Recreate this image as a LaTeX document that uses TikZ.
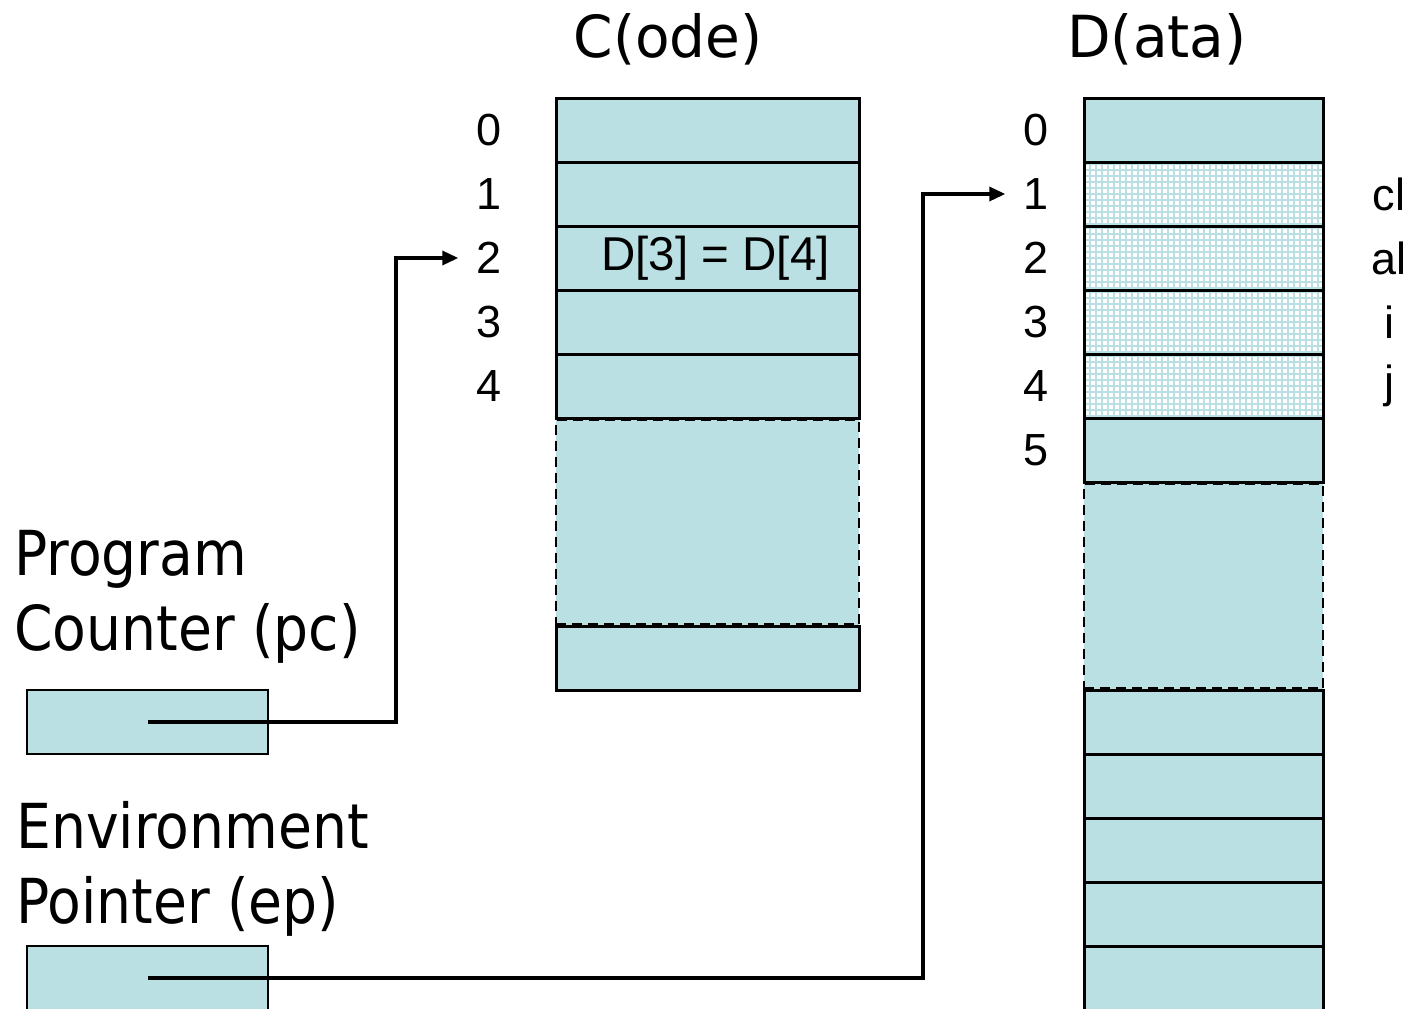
\documentclass[tikz,border=0pt]{standalone}
\usepackage{fontspec}
\setmainfont{Liberation Sans}
\newfontfamily\tahoma[FakeStretch=0.89]{DejaVu Sans}
\newfontfamily\headfont[FakeStretch=0.975]{DejaVu Sans}
\usetikzlibrary{positioning,arrows.meta}
\definecolor{memfill}{RGB}{187,224,227}
\definecolor{memgrid}{RGB}{187,224,227}

\tikzset{
  cell/.style={draw,line width=3pt,fill=memfill,minimum width=303pt,minimum height=64pt,inner sep=0pt,outer sep=0pt},
  dcell/.style={cell,minimum width=239pt},
  gridcell/.style={dcell,fill=white,path picture={\draw[memgrid,line width=2pt] (path picture bounding box.south west) grid[step=6pt] (path picture bounding box.north east);}},
  gapcell/.style={draw,dash pattern=on 10pt off 6pt,line width=2.6pt,fill=memfill,minimum height=205pt,inner sep=0pt,outer sep=0pt},
  idx/.style={font=\fontsize{45}{54}\selectfont,inner sep=2pt},
  reg/.style={draw,line width=2.2pt,fill=memfill,minimum width=241pt,minimum height=64pt,inner sep=0pt},
  regname/.style={font=\tahoma\fontsize{62}{75}\selectfont,align=left,anchor=north west,inner sep=0pt},
  seghead/.style={font=\headfont\fontsize{58}{70}\selectfont},
  ptr/.style={->,line width=3.4pt,shorten >=16pt}
}

\begin{document}
\begin{tikzpicture}[x=1pt,y=-1pt,on grid,node distance=64pt,>={Triangle[length=16pt,width=14pt]}]
  \clip (0,0) rectangle (1414,1009);

  % code segment
  \node[seghead] (codehead) at (668,39) {C(ode)};
  \node[cell] (c0) at (707.5,130) {};
  \node[cell] (c1) [below=of c0] {};
  \node[cell,font=\fontsize{47.5}{56}\selectfont] (c2) [below=of c1] {\hspace*{16pt}D[3] = D[4]};
  \node[cell] (c3) [below=of c2] {};
  \node[cell] (c4) [below=of c3] {};
  \node[gapcell,minimum width=303pt] (cgap) [below=136pt of c4] {};
  \node[cell] (c5) [below=136pt of cgap] {};

  \node[idx] (cnum0) [left=218.5pt of c0] {0};
  \node[idx] (cnum1) [left=218.5pt of c1] {1};
  \node[idx] (cnum2) [left=218.5pt of c2] {2};
  \node[idx] (cnum3) [left=218.5pt of c3] {3};
  \node[idx] (cnum4) [left=218.5pt of c4] {4};

  % data segment
  \node[seghead] (datahead) at (1157,39) {D(ata)};
  \node[dcell] (d0) at (1203.5,130) {};
  \node[gridcell] (d1) [below=of d0] {};
  \node[gridcell] (d2) [below=of d1] {};
  \node[gridcell] (d3) [below=of d2] {};
  \node[gridcell] (d4) [below=of d3] {};
  \node[dcell] (d5) [below=of d4] {};
  \node[gapcell,minimum width=239pt] (dgap) [below=136pt of d5] {};
  \node[dcell] (d6) [below=136pt of dgap] {};
  \node[dcell] (d7) [below=of d6] {};
  \node[dcell] (d8) [below=of d7] {};
  \node[dcell] (d9) [below=of d8] {};
  \node[dcell] (d10) [below=of d9] {};

  \node[idx] (dnum0) [left=167.5pt of d0] {0};
  \node[idx] (dnum1) [left=167.5pt of d1] {1};
  \node[idx] (dnum2) [left=167.5pt of d2] {2};
  \node[idx] (dnum3) [left=167.5pt of d3] {3};
  \node[idx] (dnum4) [left=167.5pt of d4] {4};
  \node[idx] (dnum5) [left=167.5pt of d5] {5};

  \node[idx] (var1) [right=185.5pt of d1] {cl};
  \node[idx] (var2) [right=185.5pt of d2] {al};
  \node[idx] (var3) [right=185.5pt of d3] {i};
  \node[idx] (var4) [right=185.5pt of d4] {j};

  % registers
  \node[regname] (pcname) at (14,530) {Program\\Counter (pc)};
  \node[reg] (pcreg) at (147.5,722) {};
  \node[regname] (epname) at (16,801) {Environment\\Pointer (ep)};
  \node[reg] (epreg) at (147.5,978) {};

  \draw[ptr] (pcreg.center) -- ++(248.5,0) |- (cnum2.west);
  \draw[ptr] (epreg.center) -- ++(775.5,0) |- (dnum1.west);
\end{tikzpicture}
\end{document}
